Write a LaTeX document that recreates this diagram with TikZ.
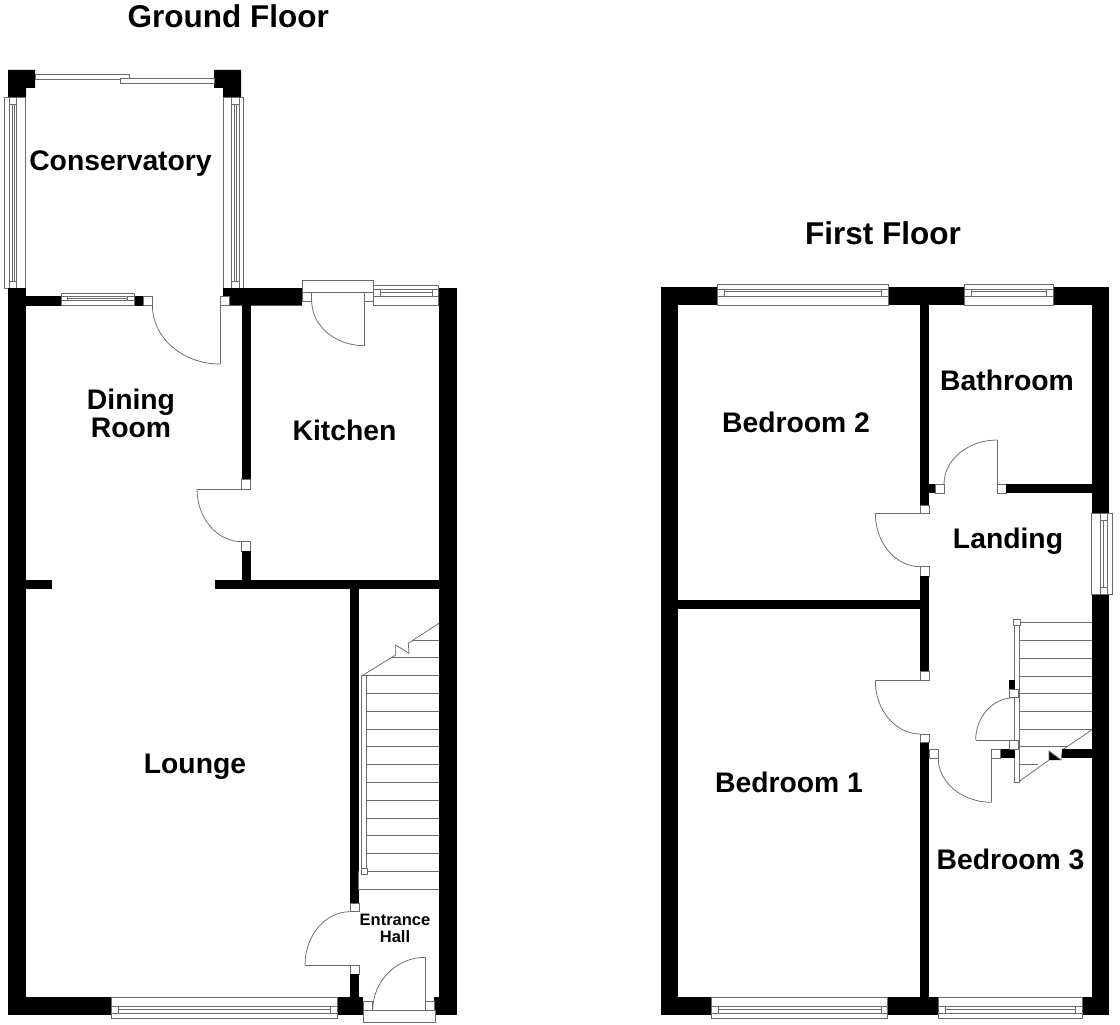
\documentclass[tikz,border=0pt]{standalone}
\usepackage{fontspec}
\setmainfont{Liberation Sans}
\usetikzlibrary{calc}
\tikzset{
  planline/.style={draw=black!58,line width=0.75pt},
  wallfill/.style={fill=black},
  roomlabel/.style={font=\fontsize{28.3}{28}\selectfont\bfseries,text=black,inner sep=0pt,align=center},
  floorlabel/.style={font=\fontsize{31.5}{32}\selectfont\bfseries,text=black,inner sep=0pt},
  smalllabel/.style={font=\fontsize{16.5}{17}\selectfont\bfseries,text=black,inner sep=0pt,align=center}
}
\newcommand\blk[4]{\fill[wallfill] (#1,#2) rectangle (#3,#4);}
\newcommand\wsq[4]{\draw[planline,fill=white] (#1,#2) rectangle (#3,#4);}
\newcommand\qarc[6]{\draw[planline] (#1,#2) .. controls ($(#1,#2)!0.5523!(#5,#6)$) and ($(#3,#4)!0.5523!(#5,#6)$) .. (#3,#4);}
\newcommand\winH[8]{%
  \draw[planline,fill=white] (#1,#3) rectangle (#2,#4);
  \draw[planline] (#1,#5) rectangle (#2,#7);
  \draw[planline] ({#1+#8},#5) -- ({#1+#8},#7);
  \draw[planline] ({#2-#8},#5) -- ({#2-#8},#7);
  \draw[planline] ({#1+#8},#6) -- ({#2-#8},#6);}
\newcommand\winV[8]{%
  \draw[planline,fill=white] (#3,#1) rectangle (#4,#2);
  \draw[planline] (#5,#1) rectangle (#7,#2);
  \draw[planline] (#5,{#1+#8}) -- (#7,{#1+#8});
  \draw[planline] (#5,{#2-#8}) -- (#7,{#2-#8});
  \draw[planline] (#6,{#1+#8}) -- (#6,{#2-#8});}
\begin{document}
\begin{tikzpicture}[x=1pt,y=-1pt]
\useasboundingbox[fill=white] (0,0) rectangle (1120,1025);

% ---------- GROUND FLOOR ----------
% conservatory corners
\fill[wallfill] (8,70) -- (35,70) -- (35,88) -- (26,88) -- (26,97) -- (8,97) -- cycle;
\fill[wallfill] (214,70) -- (241,70) -- (241,97) -- (223,97) -- (223,88) -- (214,88) -- cycle;
% sliding doors
\draw[planline,fill=white] (35,74) rectangle (129,79);
\draw[planline,fill=white] (120,78) rectangle (214,83);
% side windows
\winV{97}{288}{4.7}{25.7}{9.3}{12}{16.7}{7}
\draw[planline] (14.7,104) -- (14.7,281);
\winV{97}{288}{223}{243.7}{231.7}{234.3}{239.3}{7}
\draw[planline] (236.7,104) -- (236.7,281);
% walls
\blk{8}{288}{26}{1015}
\blk{439}{288}{457}{1015}
\blk{26}{296}{61}{305.6}
\blk{134}{296}{143}{305.6}
\wsq{143}{296}{152}{305.6}
\winH{61}{134}{293}{305.6}{296}{298.3}{300.7}{6.5}
\fill[wallfill] (223,288) -- (302,288) -- (302,305.6) -- (229,305.6) -- (229,296) -- (223,296) -- cycle;
\wsq{220}{296}{229}{305.6}
% conservatory door
\draw[planline] (220,305) -- (220,364);
\qarc{220}{364}{152.4}{305.6}{152.4}{364}
% dining / kitchen wall
\blk{241.7}{305}{250.7}{479}
\wsq{241.7}{479}{250.7}{489}
\wsq{241.7}{541.7}{250.7}{551}
\blk{241.7}{551}{250.7}{580}
\draw[planline] (197,489) -- (241.7,489);
\qarc{197}{489}{241.7}{541.7}{197}{541.7}
% lounge divider
\blk{26}{579.5}{51.5}{589}
\blk{215}{579.5}{439}{589}
% kitchen back door
\draw[planline,fill=white] (302,280) rectangle (373.3,292);
\wsq{302}{292}{311.7}{301}
\wsq{364.3}{292}{373.3}{301}
\draw[planline] (364.3,301) -- (364.3,345.7);
\qarc{364.3}{345.7}{311.7}{301}{311.7}{345.7}
\winH{373.3}{438.7}{285}{305.6}{289}{292}{296.7}{6.7}
% stair wall
\blk{350}{589}{359.3}{903}
\wsq{350}{903}{359.3}{911.7}
\wsq{350}{965}{359.3}{974}
\blk{350}{974}{359.3}{997}
\draw[planline] (305,965) -- (350,965);
\qarc{305}{965}{350}{911.7}{305}{911.7}
% stairs
\foreach \yy in {675.3,693.3,711,729,746.7,764.3,782.3,800,818,835.7,853.5,871.3}
  {\draw[planline] (366.7,\yy) -- (439,\yy);}
\draw[planline] (358.3,889) -- (439,889);
\draw[planline] (358.3,871.3) -- (358.3,889);
\draw[planline] (391.7,657.7) -- (439,657.7);
\draw[planline] (413,640) -- (439,640);
\draw[planline] (439,623.3) -- (408.3,643.3) -- (409,653.3) -- (395.7,645) -- (395.7,655) -- (362.7,675.3);
\draw[planline,fill=white] (361.7,675.3) rectangle (366.7,871);
\wsq{361}{868}{367.3}{874.3}
% bottom wall
\blk{26}{997}{111}{1015}
\blk{337.7}{997}{363.3}{1015}
\blk{434.3}{997}{439}{1015}
\winH{111}{337.7}{997}{1018.3}{1006}{1009.3}{1013.3}{7}
% front door
\draw[planline,fill=white] (363.3,1010.7) rectangle (435,1022.7);
\wsq{363.3}{1001.7}{372.7}{1010.7}
\wsq{425.3}{1001.7}{434.3}{1010.7}
\draw[planline] (425.3,1001.7) -- (425.3,957.3);
\qarc{425.3}{957.3}{372.7}{1010.7}{372.7}{957.3}

% ---------- FIRST FLOOR ----------
\blk{660.7}{287.3}{678.3}{1015}
\blk{1091.7}{287.3}{1109.3}{1015}
\blk{660.7}{287.3}{1109.3}{305}
\blk{660.7}{997.3}{1109.3}{1015}
\winH{717.3}{888.3}{284.3}{305}{289}{291.7}{296.7}{6.7}
\winH{964.3}{1053.3}{284.3}{305}{289}{291.7}{296.7}{6.7}
\winH{711.7}{887.7}{997.3}{1018.3}{1006}{1009.3}{1013.3}{6.7}
\winH{938.3}{1082.3}{997.3}{1018.3}{1006}{1009.3}{1013.3}{6.7}
% side window
\winV{513.3}{594.3}{1091.7}{1112.3}{1100}{1103.3}{1107.7}{7}
% inner vertical wall
\blk{920.3}{305}{929.3}{505}
\wsq{920.3}{505}{929.3}{513.3}
\wsq{920.3}{566.7}{929.3}{576}
\blk{920.3}{576}{929.3}{671.7}
\wsq{920.3}{671.7}{929.3}{680.7}
\wsq{920.3}{734}{929.3}{742.7}
\blk{920.3}{742.7}{929.3}{997.3}
% bedroom doors
\draw[planline] (875.3,513.3) -- (920.3,513.3);
\qarc{875.3}{513.3}{920.3}{566.7}{875.3}{566.7}
\draw[planline] (875.3,680.7) -- (920.3,680.7);
\qarc{875.3}{680.7}{920.3}{734}{875.3}{734}
% bedroom divider
\blk{678.3}{600}{920.3}{609.3}
% bathroom wall and door
\blk{929.3}{484.3}{935}{493.3}
\wsq{935}{484.3}{944}{493.3}
\wsq{997.3}{484.3}{1006}{493.3}
\blk{1006}{484.3}{1091.7}{493.3}
\draw[planline] (997.3,484.3) -- (997.3,440);
\qarc{997.3}{440}{944}{484.3}{944}{440}
% stairs
\foreach \yy in {622.3,640.3,658,676,693.7,711.7,729.3}
  {\draw[planline] (1019,\yy) -- (1091.7,\yy);}
\draw[planline] (1019,746.7) -- (1068,746.7);
\draw[planline] (1019,764) -- (1038,764);
\fill[wallfill] (1049,751) -- (1061,760) -- (1049,760) -- cycle;
\draw[planline] (1091.7,730) -- (1062.3,750) -- (1061,760) -- (1049,751) -- (1049,760) -- (1018.3,782);
\draw[planline,fill=white] (1014.7,625) rectangle (1019,782.3);
\wsq{1013.3}{619.3}{1020}{625.3}
% bedroom 3 wall
\blk{1062.3}{749.3}{1091.7}{758.3}
\blk{1000}{749.3}{1014.7}{758.3}
\wsq{991.7}{749.3}{1000}{758.3}
\wsq{929.7}{749.3}{938.3}{758.3}
\draw[planline] (991.7,758.3) -- (991.7,802.3);
\qarc{991.7}{802.3}{938.3}{758.3}{938.3}{802.3}
% cupboard door
\blk{1009}{680}{1015}{689}
\wsq{1009}{689}{1018}{697.7}
\wsq{1009}{740}{1018}{749.3}
\draw[planline] (975.7,740) -- (1009,740);
\qarc{975.7}{740}{1014}{697.7}{975.7}{697.7}

% ---------- LABELS ----------
\node[floorlabel] (gfloor) at (228.3,16) {Ground Floor};
\node[floorlabel] (ffloor) at (883,233) {First Floor};
\node[roomlabel] (conserv) at (120.5,164) {Conservatory};
\node[roomlabel] (dining) at (131,413) {Dining\\Room};
\node[roomlabel] (kitchen) at (344.5,430) {Kitchen};
\node[roomlabel] (lounge) at (195,767) {Lounge};
\node[smalllabel] (hall) at (395,928) {Entrance\\Hall};
\node[roomlabel] (bed2) at (796,422) {Bedroom 2};
\node[roomlabel] (bath) at (1007,380) {Bathroom};
\node[roomlabel] (landing) at (1008,541) {Landing};
\node[roomlabel] (bed1) at (789,782) {Bedroom 1};
\node[roomlabel] (bed3) at (1010.5,859) {Bedroom 3};
\end{tikzpicture}
\end{document}
